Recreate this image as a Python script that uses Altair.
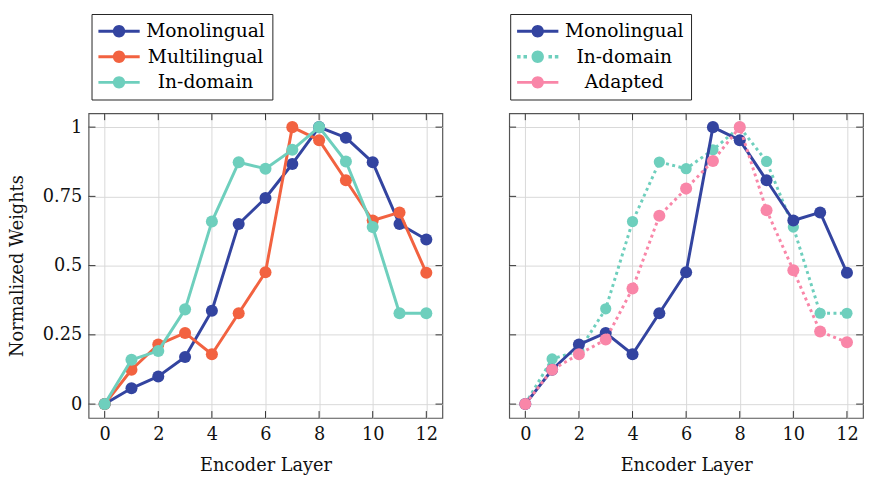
import altair as alt
import pandas as pd

# ---------------- data ----------------
layers = list(range(13))

left_monolingual = [0, 0.057, 0.10, 0.17, 0.337, 0.65, 0.744, 0.867, 1.0, 0.962, 0.873, 0.65, 0.594]
left_multilingual = [0, 0.124, 0.215, 0.257, 0.18, 0.328, 0.476, 1.0, 0.953, 0.808, 0.663, 0.692, 0.474]
left_indomain = [0, 0.16, 0.192, 0.342, 0.659, 0.873, 0.85, 0.918, 1.0, 0.876, 0.639, 0.328, 0.328]

right_monolingual = [0, 0.124, 0.215, 0.257, 0.18, 0.328, 0.476, 1.0, 0.953, 0.808, 0.663, 0.692, 0.474]
right_indomain = [0, 0.163, 0.192, 0.344, 0.659, 0.874, 0.85, 0.918, 1.0, 0.876, 0.639, 0.328, 0.328]
right_adapted = [0, 0.124, 0.18, 0.233, 0.417, 0.68, 0.778, 0.878, 1.0, 0.70, 0.483, 0.262, 0.223]

left_names = ["Monolingual", "Multilingual", "In-domain"]
right_names = ["Monolingual", "In-domain", "Adapted"]

x_ticks = [0, 2, 4, 6, 8, 10, 12]
y_ticks = [0, 0.25, 0.5, 0.75, 1]

# ---------------- style ----------------
BLUE = "#3344a0"
ORANGE = "#f26240"
TEAL = "#6ecfbd"
PINK = "#f986a8"
FONT = "DejaVu Serif"
W = 360
H = 310
PLOT_TOP = 109  # page y of plot top; legend top sits at page y 8
TICK = 7

# legend symbol paths (unit square scaled by sqrt(symbolSize)/2)
CIRCLE = "M1.6,0A0.6,0.6,0,1,1,0.4,0A0.6,0.6,0,1,1,1.6,0Z"
SOLID = "M-1,-0.14H3V0.14H-1Z" + CIRCLE
DOTTED = ("M-1,-0.17H-0.66V0.17H-1Z M-0.38,-0.17H-0.04V0.17H-0.38Z "
          "M2.04,-0.17H2.38V0.17H2.04Z M2.66,-0.17H3V0.17H2.66Z " + CIRCLE)


def long_df(names, series):
    rows = []
    for n, vals in zip(names, series):
        for l, v in zip(layers, vals):
            rows.append({"layer": l, "value": v, "series": n})
    return pd.DataFrame(rows)


xscale = alt.Scale(domain=[-0.6, 12.6], nice=False, zero=False)
yscale = alt.Scale(domain=[-0.05, 1.05], nice=False, zero=False)

x_axis = alt.Axis(values=x_ticks, title="Encoder Layer", labelPadding=8, titlePadding=13)
y_axis_left = alt.Axis(values=y_ticks, format=".2~f", title="Normalized Weights",
                       labelPadding=7, titlePadding=16)
y_axis_right = alt.Axis(values=y_ticks, labels=False, title=None)


def X(field, axis=x_axis):
    return alt.X(field, type="quantitative", scale=xscale, axis=axis)


def Y(field, axis):
    return alt.Y(field, type="quantitative", scale=yscale, axis=axis)


def tick_layers(yaxis):
    xt = pd.DataFrame({"layer": x_ticks})
    yt = pd.DataFrame({"value": y_ticks})
    rule = dict(color="#333333", strokeWidth=1)
    return [
        alt.Chart(xt).mark_rule(**rule).encode(x=X("layer"), y=alt.value(H), y2=alt.value(H - TICK)),
        alt.Chart(xt).mark_rule(**rule).encode(x=X("layer"), y=alt.value(0), y2=alt.value(TICK)),
        alt.Chart(yt).mark_rule(**rule).encode(y=Y("value", yaxis), x=alt.value(0), x2=alt.value(TICK)),
        alt.Chart(yt).mark_rule(**rule).encode(y=Y("value", yaxis), x=alt.value(W), x2=alt.value(W - TICK)),
    ]


def series_layers(df, name, color, yaxis, dash=None, size=150):
    line_kw = dict(color=color, strokeWidth=3, strokeCap="butt", strokeJoin="round")
    if dash is not None:
        line_kw["strokeDash"] = dash
    base = alt.Chart(df).transform_filter(alt.datum.series == name)
    line = base.mark_line(**line_kw).encode(x=X("layer"), y=Y("value", yaxis))
    pts = base.mark_circle(color=color, size=size, opacity=1).encode(x=X("layer"), y=Y("value", yaxis))
    return [line, pts]


def legend_layer(df, names, colors, shapes, yaxis, legend_x):
    leg = alt.Legend(
        orient="none", legendX=legend_x, legendY=-(PLOT_TOP - 8), title=None,
        symbolSize=441, symbolOpacity=1, symbolStrokeWidth=0,
        labelFont=FONT, labelFontSize=19, labelColor="black",
        labelAlign="center", labelOffset=88, labelLimit=400,
        rowPadding=5, padding=7, strokeColor="#222222", fillColor="white",
    )
    return alt.Chart(df).mark_point(filled=True, opacity=0).encode(
        x=X("layer"), y=Y("value", yaxis),
        color=alt.Color("series:N", scale=alt.Scale(domain=names, range=colors), legend=leg),
        shape=alt.Shape("series:N", scale=alt.Scale(domain=names, range=shapes), legend=leg),
    )


# ---------------- left panel ----------------
df_left = long_df(left_names, [left_monolingual, left_multilingual, left_indomain])
left = alt.layer(
    *tick_layers(y_axis_left),
    *series_layers(df_left, "Monolingual", BLUE, y_axis_left),
    *series_layers(df_left, "Multilingual", ORANGE, y_axis_left),
    *series_layers(df_left, "In-domain", TEAL, y_axis_left),
    legend_layer(df_left, left_names, [BLUE, ORANGE, TEAL], [SOLID, SOLID, SOLID], y_axis_left, 3),
).properties(width=W, height=H)

# ---------------- right panel ----------------
df_right = long_df(right_names, [right_monolingual, right_indomain, right_adapted])
right = alt.layer(
    *tick_layers(y_axis_right),
    *series_layers(df_right, "In-domain", TEAL, y_axis_right, dash=[3, 3.5], size=130),
    *series_layers(df_right, "Monolingual", BLUE, y_axis_right),
    *series_layers(df_right, "Adapted", PINK, y_axis_right, dash=[3, 3.5]),
    legend_layer(df_right, right_names, [BLUE, TEAL, PINK], [SOLID, DOTTED, SOLID], y_axis_right, 1),
).properties(width=W, height=H)

chart = (
    alt.hconcat(left, right, spacing=64)
    .resolve_scale(color="independent", shape="independent")
    .resolve_legend(color="independent", shape="independent")
    .properties(padding=0)
    .configure_view(stroke="#555555", strokeWidth=1.2)
    .configure_legend(strokeWidth=1)
    .configure_axis(
        labelFont=FONT, labelFontSize=18, labelColor="#111111",
        titleFont=FONT, titleFontSize=18, titleColor="#111111", titleFontWeight="normal",
        domain=False, ticks=False, tickSize=0,
        grid=True, gridColor="#d8d8d8", gridWidth=1,
    )
)

chart.save("out.html", embed_options={"renderer": "svg", "actions": False})
